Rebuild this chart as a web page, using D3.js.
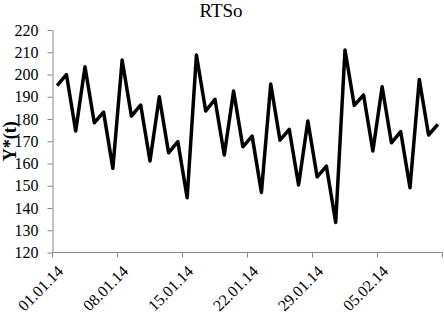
<!DOCTYPE html>
<html>
<head>
<meta charset="utf-8">
<script src="https://cdn.jsdelivr.net/npm/d3@7/dist/d3.min.js"></script>
<style>
  html, body { margin: 0; padding: 0; background: #fff; }
  svg { display: block; }
  text { font-family: "Liberation Serif", "Times New Roman", serif; fill: #000; }
</style>
</head>
<body>
<svg id="chart" width="444" height="314"></svg>
<script>
const title = "RTSo";
const yLabel = "Y*(t)";
const dates = [
  "01.01.14","02.01.14","03.01.14","04.01.14","05.01.14","06.01.14","07.01.14",
  "08.01.14","09.01.14","10.01.14","11.01.14","12.01.14","13.01.14","14.01.14",
  "15.01.14","16.01.14","17.01.14","18.01.14","19.01.14","20.01.14","21.01.14",
  "22.01.14","23.01.14","24.01.14","25.01.14","26.01.14","27.01.14","28.01.14",
  "29.01.14","30.01.14","31.01.14","01.02.14","02.02.14","03.02.14","04.02.14",
  "05.02.14","06.02.14","07.02.14","08.02.14","09.02.14","10.02.14","11.02.14"
];
const values = [
  195, 200, 174.6, 203.5, 178.3, 183.1, 157.8,
  206.5, 181.3, 186.3, 161.1, 190, 164.8, 169.8,
  144.6, 208.8, 183.6, 188.8, 163.8, 192.6, 167.5,
  172.3, 147, 195.7, 170.5, 175.3, 150.3, 179.1,
  154, 158.8, 133.5, 211, 186.1, 190.8, 165.6,
  194.5, 169.3, 174.3, 149.1, 197.8, 172.8, 177.6
];
const yTicks = [120, 130, 140, 150, 160, 170, 180, 190, 200, 210, 220];
const labelEvery = 7;

const svg = d3.select("#chart");
const plot = { left: 52.5, right: 442.5, top: 30, bottom: 252.5 };

const x = d3.scaleBand().domain(dates).range([plot.left, plot.right]).paddingInner(0).paddingOuter(0);
const y = d3.scaleLinear().domain([120, 220]).range([plot.bottom, plot.top]);
const axisColor = "#888";

// Y axis
const yAxis = svg.append("g")
  .attr("transform", `translate(${plot.left},0)`)
  .call(d3.axisLeft(y).tickValues(yTicks).tickSize(5).tickPadding(9).tickSizeOuter(0));
yAxis.select(".domain").attr("stroke", axisColor).attr("stroke-width", 1);
yAxis.selectAll(".tick line").attr("stroke", axisColor);
yAxis.selectAll(".tick text")
  .style("font-family", "'Liberation Serif', serif")
  .style("font-size", "16px").attr("fill", "#000");

// X axis (ticks at category boundaries every 7 categories)
const tickIdx = d3.range(0, dates.length + 1, labelEvery);
const xg = svg.append("g");
xg.append("line")
  .attr("x1", plot.left).attr("x2", plot.right)
  .attr("y1", plot.bottom).attr("y2", plot.bottom)
  .attr("stroke", axisColor).attr("stroke-width", 1);
xg.selectAll("line.tick").data(tickIdx).join("line")
  .attr("class", "tick")
  .attr("x1", i => i < dates.length ? x(dates[i]) : plot.right)
  .attr("x2", i => i < dates.length ? x(dates[i]) : plot.right)
  .attr("y1", plot.bottom).attr("y2", plot.bottom + 5)
  .attr("stroke", axisColor);
const labelIdx = d3.range(0, dates.length, labelEvery);
xg.selectAll("text").data(labelIdx).join("text")
  .attr("transform", i => `translate(${x(dates[i]) + x.bandwidth() / 2 + 3},${plot.bottom + 16}) rotate(-45)`)
  .attr("text-anchor", "end")
  .attr("dy", "0.35em")
  .style("font-size", "16px")
  .text(i => dates[i]);

// Line
const line = d3.line()
  .x((d, i) => x(dates[i]) + x.bandwidth() / 2)
  .y(d => y(d));
svg.append("path")
  .datum(values)
  .attr("d", line)
  .attr("fill", "none")
  .attr("stroke", "#000")
  .attr("stroke-width", 3.5)
  .attr("stroke-linejoin", "round")
  .attr("stroke-linecap", "butt");

// Title
svg.append("text")
  .attr("x", 221).attr("y", 17)
  .attr("text-anchor", "middle")
  .style("font-size", "19px")
  .text(title);

// Y label
svg.append("text")
  .attr("transform", `translate(16,${(plot.top + plot.bottom) / 2}) rotate(-90)`)
  .attr("text-anchor", "middle")
  .style("font-size", "18px")
  .style("font-weight", "bold")
  .text(yLabel);
</script>
</body>
</html>
